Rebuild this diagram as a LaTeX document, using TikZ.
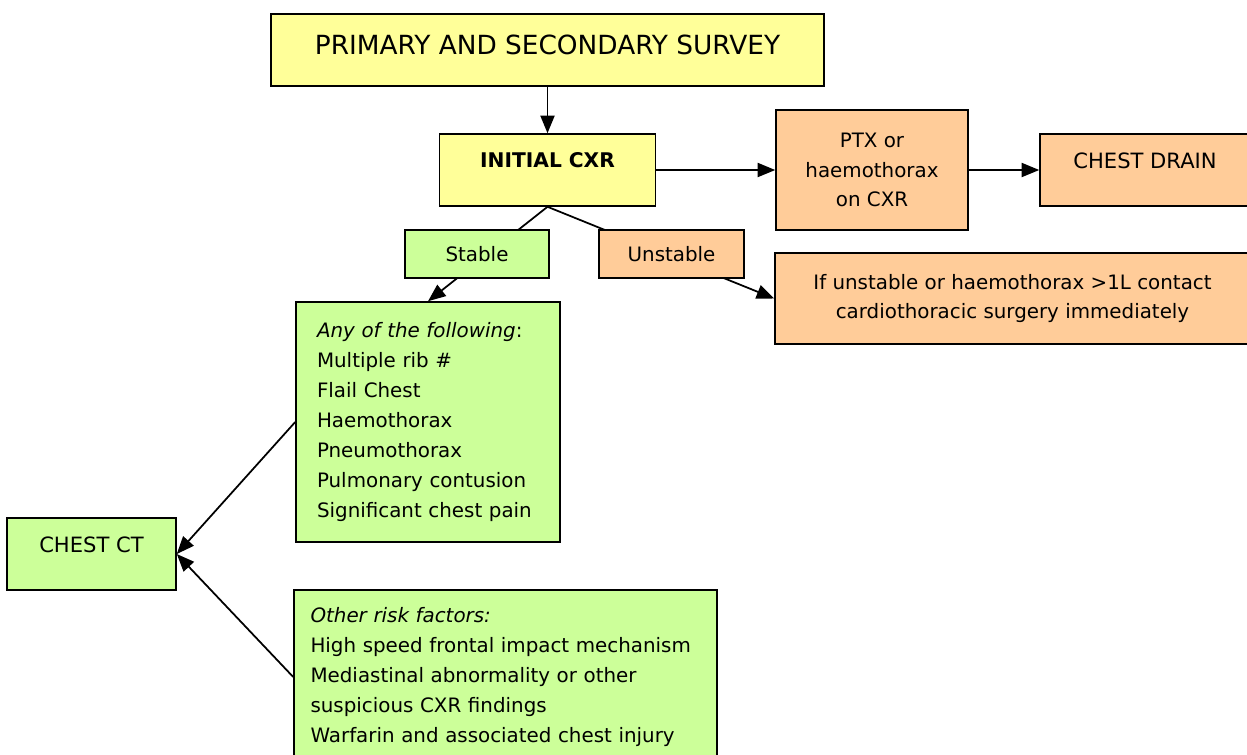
\documentclass[tikz,border=0pt]{standalone}
\usepackage{fontspec}
\setmainfont{DejaVu Sans}
\usetikzlibrary{arrows.meta}
\definecolor{boxyellow}{HTML}{FFFF99}
\definecolor{boxorange}{HTML}{FFCC99}
\definecolor{boxgreen}{HTML}{CCFF99}
\begin{document}
\begin{tikzpicture}[x=0.02cm, y=-0.02cm,
  every node/.style={font=\fontsize{11.3}{17}\selectfont},
  box/.style={draw, line width=0.9pt, inner sep=0pt},
  yellowbox/.style={box, fill=boxyellow},
  orangebox/.style={box, fill=boxorange},
  greenbox/.style={box, fill=boxgreen},
  arr/.style={-{Triangle[length=10pt,width=8pt]}, line width=1pt}]
  \useasboundingbox (0,0) rectangle (1247,754);
  \clip (0,0) rectangle (1247,754);
  \node[yellowbox, minimum width=11.06cm, minimum height=1.44cm, text depth=0.2cm,
    font=\fontsize{15}{18}\selectfont] (survey) at (547.5,50) {PRIMARY AND SECONDARY SURVEY};
  \node[yellowbox, minimum width=4.32cm, minimum height=1.44cm, text depth=0.4cm,
    font=\bfseries\fontsize{11.5}{17}\selectfont] (cxr) at (547.5,170) {INITIAL CXR};
  \node[orangebox, minimum width=3.84cm, minimum height=2.4cm, align=center] (ptx) at (872,170)
    {PTX or\\haemothorax\\on CXR};
  \node[orangebox, minimum width=4.2cm, minimum height=1.44cm, text depth=0.36cm,
    font=\fontsize{12}{17}\selectfont] (drain) at (1145,170) {CHEST DRAIN};
  \node[orangebox, minimum width=9.5cm, minimum height=1.82cm, align=center] (note) at (1012.5,298.5)
    {If unstable or haemothorax >1L contact\\cardiothoracic surgery immediately};
  \node[greenbox, text width=4.44cm, inner xsep=0.42cm, minimum height=4.8cm, align=left] (anyof) at (428,422)
    {\textit{Any of the following}:\\Multiple rib \#\\Flail Chest\\Haemothorax\\Pneumothorax\\Pulmonary contusion\\Significant chest pain};
  \node[greenbox, minimum width=3.38cm, minimum height=1.44cm, text depth=0.36cm,
    font=\fontsize{12}{17}\selectfont] (ct) at (91.5,554) {CHEST CT};
  \node[greenbox, text width=7.8cm, inner xsep=0.33cm, minimum height=3.48cm, align=left] (other) at (505.5,677)
    {\textit{Other risk factors:}\\High speed frontal impact mechanism\\Mediastinal abnormality or other\\suspicious CXR findings\\Warfarin and associated chest injury};
  \draw[arr] (survey.south) -- (cxr.north);
  \draw[arr] (cxr.east) -- (ptx.west);
  \draw[arr] (ptx.east) -- (drain.west);
  \draw[arr] (cxr.south) -- (anyof.north);
  \draw[arr] (cxr.south) -- (note.west);
  \draw[arr] (anyof.west) -- (ct.east);
  \draw[arr] (other.west) -- (ct.east);
  \node[greenbox, minimum width=2.88cm, minimum height=0.96cm] (stable) at (477,254) {Stable};
  \node[orangebox, minimum width=2.9cm, minimum height=0.96cm] (unstable) at (671.5,254) {Unstable};
\end{tikzpicture}
\end{document}
